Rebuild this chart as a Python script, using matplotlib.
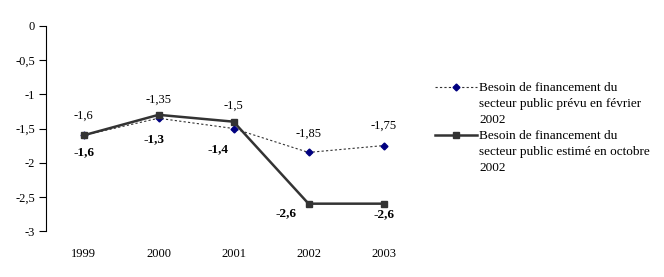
import matplotlib
matplotlib.use("Agg")
import matplotlib.pyplot as plt
from matplotlib.lines import Line2D
from matplotlib.ticker import FuncFormatter

years = ["1999", "2000", "2001", "2002", "2003"]
prevu_fev = [-1.6, -1.35, -1.5, -1.85, -1.75]
estime_oct = [-1.6, -1.3, -1.4, -2.6, -2.6]
label_fev = "Besoin de financement du\nsecteur public prévu en février\n2002"
label_oct = "Besoin de financement du\nsecteur public estimé en octobre\n2002"

# label offsets in pixels (layout only)
off_fev = [(0, 20), (0, 19), (0, 23), (0, 19), (0, 20)]
off_oct = [(0, -17), (-5, -24), (-15, -27), (-22, -9), (0, -10)]

plt.rcParams['font.family'] = ['Liberation Serif', 'DejaVu Serif']
W, H = 664, 277
fig = plt.figure(figsize=(W/100, H/100), dpi=100)
ax = fig.add_axes([46/W, 1-231/H, 375/W, 205/H])

style_fev = dict(linestyle=(0, (2, 2)), color='#333333', linewidth=0.8,
                 marker='D', markersize=3.5, markerfacecolor='#000080', markeredgecolor='#000080')
style_oct = dict(linestyle='-', color='#333333', linewidth=1.8,
                 marker='s', markersize=5, markerfacecolor='#333333', markeredgecolor='#333333')

x = list(range(len(years)))
ax.plot(x, prevu_fev, **style_fev)
ax.plot(x, estime_oct, **style_oct)

def fmt(v):
    return ("%g" % v).replace('.', ',')

for i, v in enumerate(prevu_fev):
    ax.annotate(fmt(v), (i, v), xytext=off_fev[i], textcoords='offset pixels',
                ha='center', va='center', fontsize=9)
for i, v in enumerate(estime_oct):
    ax.annotate(fmt(v), (i, v), xytext=off_oct[i], textcoords='offset pixels',
                ha='center', va='center', fontsize=9.5, fontweight='bold')

ax.set_xlim(-0.5, len(years) - 0.5)
ax.set_ylim(-3, 0)
ax.set_yticks([0, -0.5, -1, -1.5, -2, -2.5, -3])
ax.yaxis.set_major_formatter(FuncFormatter(lambda v, p: fmt(v)))
ax.set_xticks(x)
ax.set_xticklabels(years)
ax.tick_params(axis='x', length=0, pad=12, labelsize=9)
ax.tick_params(axis='y', length=5, width=0.8, direction='out', pad=3, labelsize=9)
for s in ['top', 'right', 'bottom']:
    ax.spines[s].set_visible(False)
ax.spines['left'].set_linewidth(0.8)

# manual legend (handle aligned with first text line)
def legend_entry(y_px, style, text):
    yf = 1 - y_px / H
    line = Line2D([435/W, 477/W], [yf, yf], transform=fig.transFigure,
                  **{k: v for k, v in style.items() if not k.startswith('marker')})
    mk = Line2D([456/W], [yf], transform=fig.transFigure, linestyle='none',
                **{k: v for k, v in style.items() if k.startswith('marker')})
    fig.add_artist(line)
    fig.add_artist(mk)
    fig.text(479/W, yf + 5/H, text, ha='left', va='top', fontsize=9.5, linespacing=1.42)

legend_entry(87, style_fev, label_fev)
legend_entry(135, style_oct, label_oct)

fig.savefig("out.png", dpi=100)
